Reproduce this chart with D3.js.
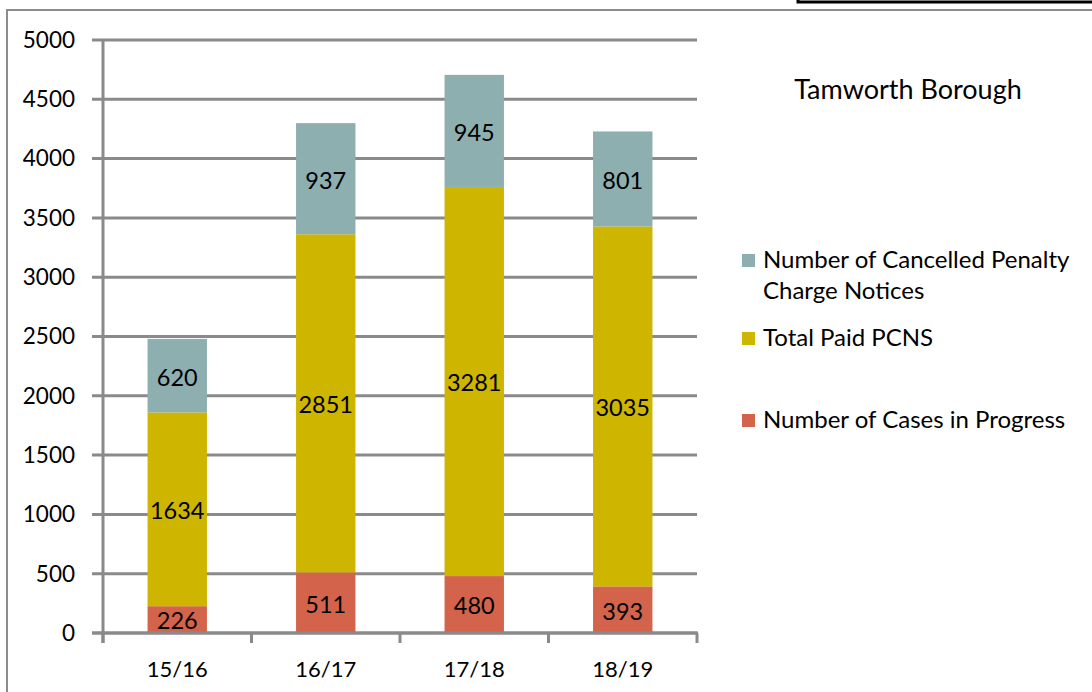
<!DOCTYPE html>
<html>
<head>
<meta charset="utf-8">
<script src="https://cdn.jsdelivr.net/npm/d3@7"></script>
<style>
  body { margin: 0; background: #fff; }
  svg { display: block; font-family: Lato, "Open Sans", sans-serif; }
</style>
</head>
<body>
<div class="chart"></div>
<script>
// Chart data
const years = ['15/16', '16/17', '17/18', '18/19'];
const casesInProgress = [226, 511, 480, 393];
const totalPaid = [1634, 2851, 3281, 3035];
const cancelled = [620, 937, 945, 801];
const yTicks = [0, 500, 1000, 1500, 2000, 2500, 3000, 3500, 4000, 4500, 5000];
const seriesNames = ['Number of Cases in Progress', 'Total Paid PCNS', 'Number of Cancelled Penalty Charge Notices'];
const seriesColors = ['#D3644B', '#CDB500', '#8DAFAF'];

const width = 1092;
const height = 692;
const plot = { left: 103, right: 697, top: 40, bottom: 633 };

const svg = d3.select('.chart')
  .append('svg')
  .attr('width', width)
  .attr('height', height);

// outer frame and the bit of box at top-right
svg.append('path')
  .attr('d', 'M7,692 V10 H1092')
  .attr('fill', 'none')
  .attr('stroke', '#8c8c8c')
  .attr('stroke-width', 2);
svg.append('path')
  .attr('d', 'M798,-5 V2 H1092')
  .attr('fill', 'none')
  .attr('stroke', '#000')
  .attr('stroke-width', 3);

const x = d3.scaleBand()
  .domain(years)
  .range([plot.left, plot.right])
  .paddingInner(0.6)
  .paddingOuter(0.3);

const y = d3.scaleLinear()
  .domain([0, 5000])
  .range([plot.bottom, plot.top]);

// gridlines
svg.append('g')
  .selectAll('line')
  .data(yTicks)
  .enter()
  .append('line')
  .attr('x1', plot.left - 11)
  .attr('x2', plot.right)
  .attr('y1', d => y(d))
  .attr('y2', d => y(d))
  .attr('stroke', '#8a8a8a')
  .attr('stroke-width', 3);

// y labels
svg.append('g')
  .selectAll('text')
  .data(yTicks)
  .enter()
  .append('text')
  .attr('x', 75)
  .attr('y', d => y(d))
  .attr('dy', '0.35em')
  .attr('text-anchor', 'end')
  .attr('font-size', 22.5)
  .attr('fill', '#000')
  .text(d => d);

// stacked bars
const rows = years.map((yr, i) => ({
  year: yr,
  progress: casesInProgress[i],
  paid: totalPaid[i],
  cancelled: cancelled[i]
}));
const stack = d3.stack().keys(['progress', 'paid', 'cancelled']);
const layers = stack(rows);

const groups = svg.selectAll('.layer')
  .data(layers)
  .enter()
  .append('g')
  .attr('class', 'layer')
  .attr('fill', (d, i) => seriesColors[i]);

groups.selectAll('rect')
  .data(d => d)
  .enter()
  .append('rect')
  .attr('x', d => x(d.data.year))
  .attr('width', x.bandwidth())
  .attr('y', d => y(d[1]))
  .attr('height', d => y(d[0]) - y(d[1]));

groups.selectAll('text')
  .data(d => d)
  .enter()
  .append('text')
  .attr('x', d => x(d.data.year) + x.bandwidth() / 2)
  .attr('y', d => y((d[0] + d[1]) / 2))
  .attr('dy', '0.42em')
  .attr('text-anchor', 'middle')
  .attr('font-size', 23.5)
  .attr('fill', '#000')
  .text(d => d[1] - d[0]);

// axes lines
const xTickPos = years.map(yr => x(yr) - x.step() * x.paddingInner() / 2).concat([plot.right]);
svg.append('line')
  .attr('x1', plot.left).attr('x2', plot.left)
  .attr('y1', plot.top - 1).attr('y2', plot.bottom + 10)
  .attr('stroke', '#8a8a8a').attr('stroke-width', 3);
svg.append('line')
  .attr('x1', plot.left - 11).attr('x2', plot.right + 1)
  .attr('y1', plot.bottom).attr('y2', plot.bottom)
  .attr('stroke', '#8a8a8a').attr('stroke-width', 3);
svg.append('g')
  .selectAll('line')
  .data(xTickPos)
  .enter()
  .append('line')
  .attr('x1', d => d).attr('x2', d => d)
  .attr('y1', plot.bottom).attr('y2', plot.bottom + 10)
  .attr('stroke', '#8a8a8a').attr('stroke-width', 3);

// x labels
svg.append('g')
  .selectAll('text')
  .data(years)
  .enter()
  .append('text')
  .attr('x', d => x(d) + x.bandwidth() / 2)
  .attr('y', 669)
  .attr('dy', '0.35em')
  .attr('text-anchor', 'middle')
  .attr('font-size', 22)
  .text(d => d);

// title
svg.append('text')
  .attr('x', 908)
  .attr('y', 90)
  .attr('dy', '0.35em')
  .attr('text-anchor', 'middle')
  .attr('font-size', 27)
  .text('Tamworth Borough');

// legend (top to bottom: cancelled, paid, progress)
const legendItems = [
  { lines: ['Number of Cancelled Penalty', 'Charge Notices'], color: seriesColors[2], y: 260 },
  { lines: ['Total Paid PCNS'], color: seriesColors[1], y: 338 },
  { lines: [seriesNames[0]], color: seriesColors[0], y: 420 }
];
const legend = svg.selectAll('.legend')
  .data(legendItems)
  .enter()
  .append('g')
  .attr('class', 'legend');
legend.append('rect')
  .attr('x', 742)
  .attr('y', d => d.y - 6)
  .attr('width', 13)
  .attr('height', 13)
  .attr('fill', d => d.color);
legend.append('text')
  .attr('font-size', 24)
  .selectAll('tspan')
  .data(d => d.lines.map((l, i) => ({ l, y: d.y + i * 31 })))
  .enter()
  .append('tspan')
  .attr('x', 763)
  .attr('y', d => d.y)
  .attr('dy', '0.35em')
  .text(d => d.l);
</script>
</body>
</html>
